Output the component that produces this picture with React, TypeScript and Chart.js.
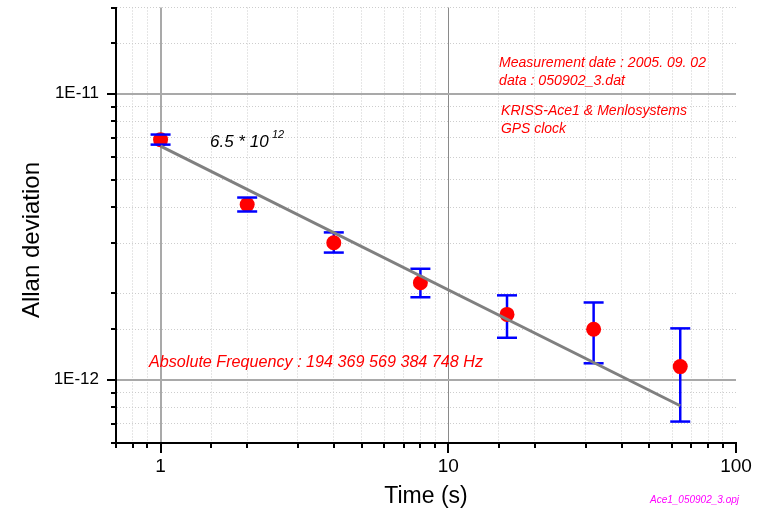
import React, { useEffect, useRef } from 'react';
import { Chart, registerables } from 'chart.js';

Chart.register(...registerables);

// ---- data ----
const tau = [1, 2, 4, 8, 16, 32, 64];
const allanDev = [6.9e-12, 4.09e-12, 3.01e-12, 2.18e-12, 1.69e-12, 1.5e-12, 1.11e-12];
const errUpper = [7.19e-12, 4.33e-12, 3.27e-12, 2.44e-12, 1.97e-12, 1.86e-12, 1.51e-12];
const errLower = [6.63e-12, 3.87e-12, 2.78e-12, 1.94e-12, 1.4e-12, 1.14e-12, 0.713e-12];
const fitTau = [1, 64];
const fitDev = [6.55e-12, 0.81e-12];
const xTickValues = [1, 10, 100];
const xTickLabels = ['1', '10', '100'];
const yTickValues = [1e-11, 1e-12];
const yTickLabels = ['1E-11', '1E-12'];
const xRange = [0.7, 100];
const yRange = [6e-13, 2e-11];

const FONT = '"Liberation Sans", Arial, sans-serif';

const isDecade = (v: number) => {
  if (!v || v <= 0) return false;
  const l = Math.log10(v);
  return Math.abs(l - Math.round(l)) < 1e-6;
};
const sameVal = (a: number, b: number) => Math.abs(a - b) <= Math.abs(b) * 1e-6;

const tickMarksPlugin = {
  id: 'tickMarks',
  afterDraw(chart: any) {
    const ctx = chart.ctx;
    const xs = chart.scales.x;
    const ys = chart.scales.y;
    ctx.save();
    ctx.strokeStyle = '#000';
    ctx.lineWidth = 2;
    xs.ticks.forEach((t: any) => {
      const px = Math.round(xs.getPixelForValue(t.value));
      const len = isDecade(t.value) ? 10 : 5;
      ctx.beginPath();
      ctx.moveTo(px, xs.top);
      ctx.lineTo(px, xs.top + len);
      ctx.stroke();
    });
    ys.ticks.forEach((t: any) => {
      const py = Math.round(ys.getPixelForValue(t.value));
      const len = isDecade(t.value) ? 9 : 5;
      ctx.beginPath();
      ctx.moveTo(ys.right, py);
      ctx.lineTo(ys.right - len, py);
      ctx.stroke();
    });
    ctx.restore();
  },
};

const errorBarPlugin = {
  id: 'errorBars',
  beforeDatasetsDraw(chart: any) {
    const ctx = chart.ctx;
    const xs = chart.scales.x;
    const ys = chart.scales.y;
    ctx.save();
    ctx.strokeStyle = '#0000ff';
    ctx.lineWidth = 2.5;
    tau.forEach((t, i) => {
      const px = xs.getPixelForValue(t);
      ctx.beginPath();
      ctx.moveTo(px, ys.getPixelForValue(errUpper[i]));
      ctx.lineTo(px, ys.getPixelForValue(errLower[i]));
      ctx.stroke();
    });
    ctx.restore();
  },
  afterDatasetDraw(chart: any, args: any) {
    if (args.index !== 0) return;
    const ctx = chart.ctx;
    const xs = chart.scales.x;
    const ys = chart.scales.y;
    ctx.save();
    ctx.strokeStyle = '#0000ff';
    ctx.lineWidth = 2.5;
    tau.forEach((t, i) => {
      const px = xs.getPixelForValue(t);
      [errUpper[i], errLower[i]].forEach((v) => {
        const py = ys.getPixelForValue(v);
        ctx.beginPath();
        ctx.moveTo(px - 10, py);
        ctx.lineTo(px + 10, py);
        ctx.stroke();
      });
    });
    ctx.restore();
  },
};

const textPlugin = {
  id: 'annotText',
  afterDraw(chart: any) {
    const ctx = chart.ctx;
    ctx.save();
    ctx.textAlign = 'left';
    ctx.textBaseline = 'alphabetic';
    const put = (s: string, x: number, y: number, font: string, color: string, w?: number) => {
      ctx.font = font;
      ctx.fillStyle = color;
      if (w) ctx.fillText(s, x, y, w);
      else ctx.fillText(s, x, y);
    };
    const red = '#ff0000';
    put('Measurement date : 2005. 09. 02', 499, 67, `italic 15px ${FONT}`, red, 207);
    put('data : 050902_3.dat', 499, 85, `italic 15px ${FONT}`, red, 126);
    put('KRISS-Ace1 & Menlosystems', 501, 115, `italic 15px ${FONT}`, red, 186);
    put('GPS clock', 501, 133, `italic 15px ${FONT}`, red, 65);
    put('6.5 * 10', 210, 147, `italic 17px ${FONT}`, '#000', 60);
    put('12', 272, 138, `italic 11px ${FONT}`, '#000', 13);
    put('Absolute Frequency : 194 369 569 384 748 Hz', 149, 367, `italic 17px ${FONT}`, red, 334);
    put('Ace1_050902_3.opj', 650, 503, `italic 10px ${FONT}`, '#ff00ff', 90);

    // y axis title
    ctx.translate(32, 240);
    ctx.rotate(-Math.PI / 2);
    ctx.textAlign = 'center';
    ctx.textBaseline = 'middle';
    ctx.font = `24px ${FONT}`;
    ctx.fillStyle = '#000';
    ctx.fillText('Allan deviation', 0, 0);
    ctx.restore();
  },
};

export default function App() {
  const canvasRef = useRef<HTMLCanvasElement | null>(null);

  useEffect(() => {
    const canvas = canvasRef.current;
    if (!canvas) return;
    const gridColor = (c: any, tenColor: string) => {
      const v = c.tick ? c.tick.value : 0;
      if (sameVal(v, 100)) return 'rgba(0,0,0,0)';
      if (isDecade(v)) return sameVal(v, 10) ? tenColor : '#a9a9a9';
      return '#cdcdcd';
    };
    const chart = new Chart(canvas, {
      type: 'scatter',
      data: {
        datasets: [
          {
            label: 'Allan deviation',
            data: tau.map((t, i) => ({ x: t, y: allanDev[i] })),
            backgroundColor: '#ff0000',
            borderColor: '#ff0000',
            borderWidth: 0,
            pointRadius: 7.5,
            pointHoverRadius: 7.5,
            order: 2,
          },
          {
            label: 'fit',
            type: 'line',
            data: fitTau.map((t, i) => ({ x: t, y: fitDev[i] })),
            borderColor: '#808080',
            borderWidth: 3,
            pointRadius: 0,
            showLine: true,
            fill: false,
            order: 1,
          } as any,
        ],
      },
      options: {
        animation: false,
        responsive: false,
        maintainAspectRatio: false,
        devicePixelRatio: 1,
        layout: { padding: { left: 0, right: 25, top: 7, bottom: 0 } },
        plugins: { legend: { display: false }, tooltip: { enabled: false } },
        scales: {
          x: {
            type: 'logarithmic',
            min: xRange[0],
            max: xRange[1],
            afterFit: (s: any) => {
              s.height = 72;
              s.paddingLeft = 0;
              s.paddingRight = 0;
            },
            grid: {
              drawTicks: false,
              color: (c: any) => gridColor(c, '#8a8a8a'),
              lineWidth: (c: any) => {
                const v = c.tick ? c.tick.value : 0;
                if (isDecade(v)) return sameVal(v, 10) ? 1 : 2;
                return 1;
              },
            },
            border: {
              color: '#000',
              width: 2,
              dash: (c: any) => (c.tick && !isDecade(c.tick.value) ? [1, 2] : []),
            },
            ticks: {
              autoSkip: false,
              maxRotation: 0,
              padding: 12,
              color: '#000',
              font: { family: FONT, size: 19 },
              callback: (v: any) => {
                const idx = xTickValues.findIndex((t) => sameVal(Number(v), t));
                return idx >= 0 ? xTickLabels[idx] : '';
              },
            },
            title: {
              display: true,
              text: 'Time (s)',
              color: '#000',
              font: { family: FONT, size: 23 },
              padding: { top: 0, bottom: 5 },
            },
          },
          y: {
            type: 'logarithmic',
            min: yRange[0],
            max: yRange[1],
            afterFit: (s: any) => {
              s.width = 116;
              s.paddingTop = 0;
              s.paddingBottom = 0;
            },
            grid: {
              drawTicks: false,
              color: (c: any) => gridColor(c, '#a9a9a9'),
              lineWidth: (c: any) => (c.tick && isDecade(c.tick.value) ? 2 : 1),
            },
            border: {
              color: '#000',
              width: 2,
              dash: (c: any) => (c.tick && !isDecade(c.tick.value) ? [1, 2] : []),
            },
            ticks: {
              autoSkip: false,
              padding: 17,
              color: '#000',
              font: { family: FONT, size: 17 },
              callback: (v: any) => {
                const idx = yTickValues.findIndex((t) => sameVal(Number(v), t));
                return idx >= 0 ? yTickLabels[idx] : '';
              },
            },
          },
        },
      },
      plugins: [errorBarPlugin, tickMarksPlugin, textPlugin],
    });
    return () => chart.destroy();
  }, []);

  return (
    <div style={{ position: 'fixed', left: 0, top: 0, width: 761, height: 515, background: '#fff' }}>
      <canvas ref={canvasRef} width={761} height={515} style={{ width: 761, height: 515, display: 'block' }} />
    </div>
  );
}
